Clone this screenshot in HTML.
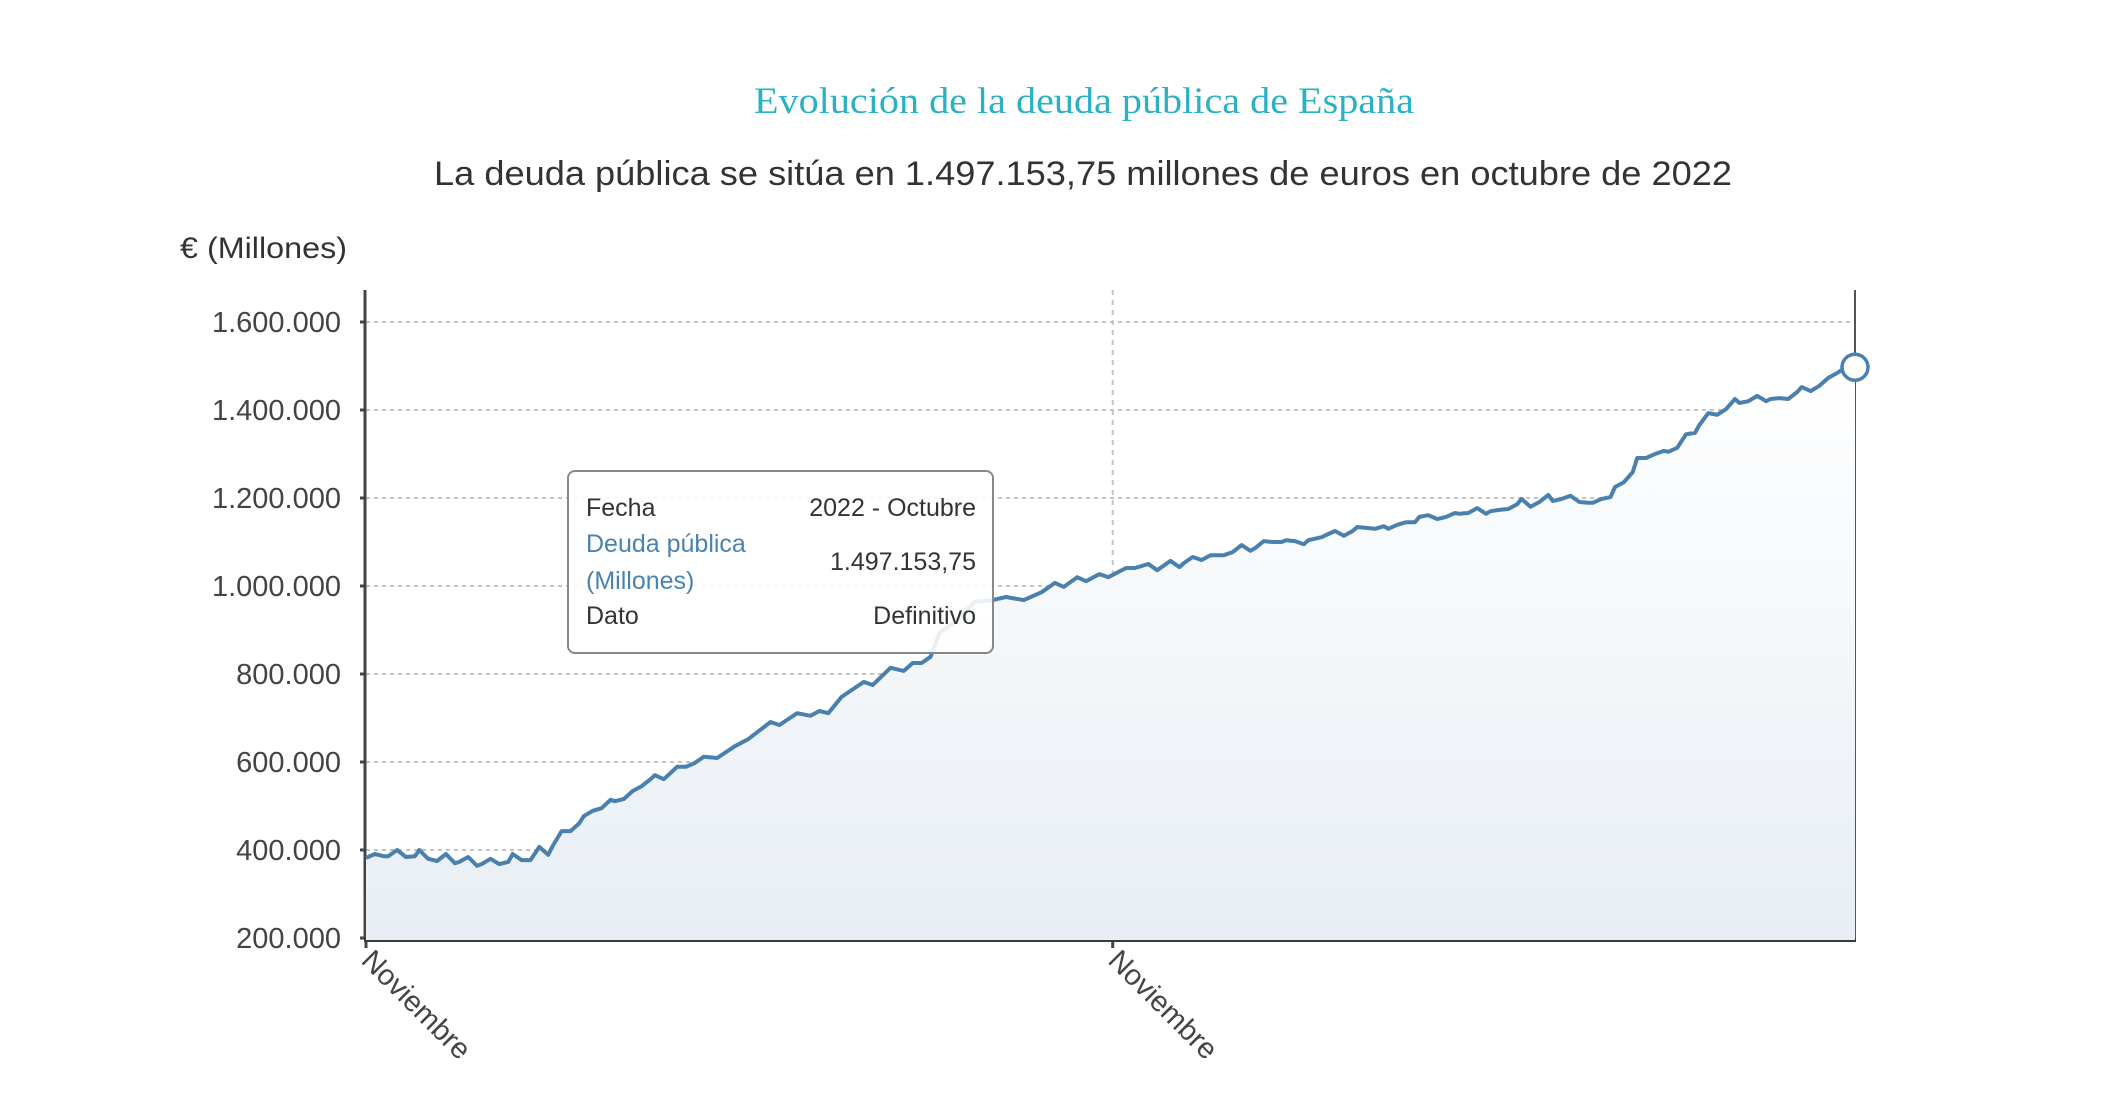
<!DOCTYPE html>
<html><head><meta charset="utf-8">
<style>
html,body{margin:0;padding:0;background:#fff;width:2116px;height:1094px;overflow:hidden;}
svg{display:block;font-family:"Liberation Sans",sans-serif;}
</style></head>
<body>
<svg id="chart" width="2116" height="1094" viewBox="0 0 2116 1094" xmlns="http://www.w3.org/2000/svg">
<defs>
<linearGradient id="areaGrad" x1="0" y1="0" x2="0" y2="1">
<stop offset="0" stop-color="#ffffff"/>
<stop offset="1" stop-color="#e8eef4"/>
</linearGradient>
</defs>
<text x="1084" y="113" text-anchor="middle" font-family="'Liberation Serif',serif" font-size="37" fill="#2bb1c4" textLength="660" lengthAdjust="spacingAndGlyphs">Evolución de la deuda pública de España</text>
<text x="434" y="185" font-size="34" fill="#333" textLength="1298" lengthAdjust="spacingAndGlyphs">La deuda pública se sitúa en 1.497.153,75 millones de euros en octubre de 2022</text>
<text x="180" y="258" font-size="30" fill="#333" textLength="167" lengthAdjust="spacingAndGlyphs">€ (Millones)</text>
<g id="grid"></g>
<g id="series"></g>
<g id="axes"></g>
<g id="tooltip">
<rect x="568" y="471" width="425" height="182" rx="7" fill="#fff" fill-opacity="0.88" stroke="#888" stroke-width="2"/>
<text x="586" y="516" font-size="25" fill="#333">Fecha</text>
<text x="976" y="516" font-size="25" fill="#333" text-anchor="end">2022 - Octubre</text>
<text x="586" y="552" font-size="25" fill="#4a82b0">Deuda pública</text>
<text x="586" y="589" font-size="25" fill="#4a82b0">(Millones)</text>
<text x="976" y="570" font-size="25" fill="#333" text-anchor="end">1.497.153,75</text>
<text x="586" y="624" font-size="25" fill="#333">Dato</text>
<text x="976" y="624" font-size="25" fill="#333" text-anchor="end">Definitivo</text>
</g>
</svg>
<script>
// Month index since Nov 1994 (0) to Oct 2022 (335)
const months = [0,2,4,5,7,9,11,12,14,16,18,20,21,23,25,26,28,30,32,33,35,37,39,41,42,44,46,48,49,51,53,55,56,58,60,62,64,65,67,68,70,72,74,
76,79,83,86,91,93,97,100,102,104,107,112,114,118,121,123,125,127,129,133,137,141,144,148,152,155,157,160,162,165,167,171,173,176,178,
181,183,184,186,188,190,193,195,197,199,200,202,204,206,207,209,211,212,215,216,218,220,222,223,225,227,229,230,232,234,236,237,239,241,243,245,246,248,250,252,253,255,257,259,260,262,264,266,267,269,271,273,275,276,278,
280,281,283,285,286,288,290,292,293,295,297,299,300,302,304,306,308,309,311,313,315,316,318,320,322,323,325,327,329,331,332,335];
// Debt in thousands of millions of euros
const debt = [382,391,386,386,400,384,386,400,380,375,391,370,373,384,364,368,380,368,373,391,377,377,407,389,409,443,443,461,477,489,495,514,511,516,534,545,561,570,561,570,589,589,598,
612,609,636,652,691,684,711,705,716,711,748,782,775,814,807,825,825,839,893,923,964,968,975,968,986,1007,998,1020,1011,1027,1020,1041,1041,1050,1036,
1057,1043,1052,1066,1059,1070,1070,1077,1093,1080,1086,1102,1100,1100,1104,1102,1095,1104,1111,1116,1125,1114,1125,1134,1132,1130,1136,1130,1139,1145,1145,1157,1161,1152,1157,1166,1164,1166,1177,1164,1170,1173,1175,1186,1198,1180,1191,1207,1193,1198,1205,1191,1189,1189,1198,
1202,1225,1236,1259,1291,1291,1300,1307,1305,1314,1345,1348,1366,1393,1389,1402,1425,1416,1420,1432,1420,1425,1427,1425,1441,1452,1443,1455,1473,1484,1491,1497.15375];
const yTicks = [200,400,600,800,1000,1200,1400,1600];
const yTickLabels = ["200.000","400.000","600.000","800.000","1.000.000","1.200.000","1.400.000","1.600.000"];
const xTicks = [0,168];
const xTickLabels = ["Noviembre","Noviembre"];

const NS="http://www.w3.org/2000/svg";
const L=366,R=1855,T=290,B=940;
const xMin=0,xMax=335,yMin=200,yMax=1600;
const Y0=938,Y1=322;
function xs(m){return L+(m-xMin)/(xMax-xMin)*(R-L);}
function ys(v){return Y0-(v-yMin)/(yMax-yMin)*(Y0-Y1);}
function mk(tag,attrs,parent){const e=document.createElementNS(NS,tag);for(const k in attrs)e.setAttribute(k,attrs[k]);parent.appendChild(e);return e;}

const grid=document.getElementById('grid'),series=document.getElementById('series'),axes=document.getElementById('axes');

yTicks.forEach((v,i)=>{
  const g=mk('line',{x1:L,x2:R,y1:ys(v),y2:ys(v),stroke:'#c4c4c4','stroke-width':2,'stroke-dasharray':'4,4'},grid);
  
  
  const t=mk('text',{x:341,y:ys(v)+10,'text-anchor':'end','font-size':29,fill:'#444'},axes);
  t.textContent=yTickLabels[i];
  
  
  const tk=mk('line',{x1:L-6,x2:L,y1:ys(v),y2:ys(v),stroke:'#444','stroke-width':3},axes);
  
  
});
xTicks.forEach((m,i)=>{
  if(m>0){
    const g=mk('line',{x1:xs(m),x2:xs(m),y1:T,y2:B,stroke:'#c4c4c4','stroke-width':2,'stroke-dasharray':'5,5'},grid);
    
    
  }
  const tk=mk('line',{x1:xs(m),x2:xs(m),y1:B,y2:B+8,stroke:'#444','stroke-width':3},axes);
  
  
  const t=mk('text',{x:0,y:0,'font-size':29,fill:'#444',transform:`translate(${xs(m)-6},${B+22}) rotate(45)`},axes);
  t.textContent=xTickLabels[i];
  
  
});

let d='';
months.forEach((m,i)=>{d+=(i?'L':'M')+xs(m).toFixed(1)+','+ys(debt[i]).toFixed(1);});
const area=mk('path',{d:d+`L${xs(months[months.length-1])},${B}L${xs(months[0])},${B}Z`,fill:'url(#areaGrad)'},series);


const line=mk('path',{d:d,fill:'none',stroke:'#4a80ad','stroke-width':4,'stroke-linejoin':'round'},series);


const last=months.length-1;
const mark=mk('circle',{cx:xs(months[last]),cy:ys(debt[last]),r:13,fill:'#fff',stroke:'#4a80ad','stroke-width':3.5},series);



const ya=mk('line',{x1:L-1,x2:L-1,y1:T,y2:B,stroke:'#444','stroke-width':3},axes);


const ra=mk('line',{x1:R,x2:R,y1:T,y2:B,stroke:'#555','stroke-width':2},axes);


const xa=mk('line',{x1:L-2,x2:R+1,y1:B,y2:B,stroke:'#3a3a3a','stroke-width':4},axes);


// keep marker above axis line
series.parentNode.insertBefore(axes,series);
</script>
</body></html>
